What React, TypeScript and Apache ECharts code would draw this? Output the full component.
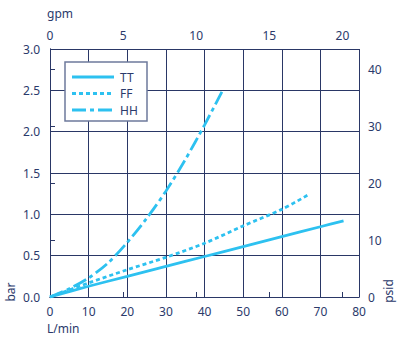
import React, { useEffect, useRef } from "react";
import * as echarts from "echarts";

// ---- data ----
const ttFlow = [0, 10, 20, 30, 40, 50, 60, 70, 76];
const ttBar = [0, 0.13, 0.25, 0.37, 0.49, 0.61, 0.73, 0.85, 0.92];

const ffFlow = [0, 10, 20, 30, 40, 50, 60, 67];
const ffBar = [0, 0.17, 0.33, 0.48, 0.65, 0.86, 1.06, 1.24];

const hhFlow = [0, 5, 10, 15, 20, 25, 30, 35, 40, 44.7];
const hhBar = [0, 0.1, 0.23, 0.41, 0.66, 0.95, 1.28, 1.66, 2.08, 2.5];

const seriesNames = ["TT", "FF", "HH"];
const gpmTicks = [0, 5, 10, 15, 20];
const psidTicks = [0, 10, 20, 30, 40];

const LPM_MAX = 80;
const BAR_MAX = 3;
const LPM_PER_GPM = 3.78541;
const PSI_PER_BAR = 14.5038;

const NAVY = "#2b3a6b";
const GRID = "#2a3766";
const CYAN = "#2dc1f0";
const FONT = "Noto Sans";

const pairs = (xs: number[], ys: number[]) => xs.map((x, i) => [x, ys[i]]);

export default function App() {
  const ref = useRef<HTMLDivElement>(null);

  useEffect(() => {
    if (!ref.current) return;
    const chart = echarts.init(ref.current, null, { renderer: "svg" });

    const dashDot = [14, 4, 4, 4];
    const dotted = [4, 3];
    const lineStyles = [
      { type: "solid" as any, dash: null as any },
      { type: dotted as any, dash: dotted },
      { type: dashDot as any, dash: dashDot },
    ];

    const legendRows = [77, 93.5, 110];

    chart.setOption({
      animation: false,
      grid: { left: 50, right: 38, top: 49, bottom: 46, containLabel: false },
      textStyle: { fontFamily: FONT },
      xAxis: [
        {
          type: "value",
          position: "bottom",
          min: 0,
          max: LPM_MAX,
          interval: 10,
          axisLine: { show: true, lineStyle: { color: GRID, width: 1 } },
          axisTick: { show: false },
          axisLabel: { color: NAVY, fontSize: 12, margin: 8, fontFamily: FONT },
          splitLine: { show: true, lineStyle: { color: GRID, width: 1 } },
        },
        {
          type: "value",
          position: "top",
          min: 0,
          max: LPM_MAX / LPM_PER_GPM,
          axisLine: { show: true, lineStyle: { color: GRID, width: 1 } },
          axisTick: { show: true, length: 5, inside: false, customValues: gpmTicks, lineStyle: { color: GRID } },
          axisLabel: { color: NAVY, fontSize: 12, margin: 8, fontFamily: FONT, customValues: gpmTicks },
          splitLine: { show: false },
        },
      ],
      yAxis: [
        {
          type: "value",
          position: "left",
          min: 0,
          max: BAR_MAX,
          interval: 0.5,
          axisLine: { show: true, lineStyle: { color: GRID, width: 1 } },
          axisTick: { show: false },
          axisLabel: {
            color: NAVY,
            fontSize: 12,
            margin: 10,
            fontFamily: FONT,
            formatter: (v: number) => v.toFixed(1),
          },
          splitLine: { show: true, lineStyle: { color: GRID, width: 1 } },
        },
        {
          type: "value",
          position: "right",
          min: 0,
          max: BAR_MAX * PSI_PER_BAR,
          axisLine: { show: true, lineStyle: { color: GRID, width: 1 } },
          axisTick: { show: true, length: 5, inside: false, customValues: psidTicks, lineStyle: { color: GRID } },
          axisLabel: { color: NAVY, fontSize: 12, margin: 9, fontFamily: FONT, customValues: psidTicks },
          splitLine: { show: false },
        },
      ],
      series: [
        { data: pairs(ttFlow, ttBar) },
        { data: pairs(ffFlow, ffBar) },
        { data: pairs(hhFlow, hhBar) },
      ].map((s, i) => ({
        name: seriesNames[i],
        type: "line",
        xAxisIndex: 0,
        yAxisIndex: 0,
        symbol: "none",
        smooth: 0.3,
        z: 5,
        lineStyle: { color: CYAN, width: 2.8, type: lineStyles[i].type, cap: "butt" },
        data: s.data,
      })),
      graphic: [
        {
          type: "text",
          left: 47,
          top: 7,
          style: { text: "gpm", fill: NAVY, font: `12px "${FONT}"` },
        },
        {
          type: "text",
          left: 47,
          top: 322,
          style: { text: "L/min", fill: NAVY, font: `12px "${FONT}"` },
        },
        {
          type: "text",
          x: 10,
          y: 292,
          rotation: Math.PI / 2,
          style: { text: "bar", fill: NAVY, font: `12px "${FONT}"`, textAlign: "center", textVerticalAlign: "middle" },
        },
        {
          type: "text",
          x: 388,
          y: 291,
          rotation: Math.PI / 2,
          style: { text: "psid", fill: NAVY, font: `12px "${FONT}"`, textAlign: "center", textVerticalAlign: "middle" },
        },
        {
          type: "group",
          z: 100,
          children: [
            {
              type: "rect",
              shape: { x: 65, y: 62, width: 82, height: 59 },
              style: { fill: "#ffffff", stroke: "#6e7a9c", lineWidth: 1.5 },
              z: 100,
            },
            ...seriesNames.flatMap((name, i) => [
              {
                type: "line",
                z: 101,
                shape: { x1: 72, y1: legendRows[i], x2: 114, y2: legendRows[i] },
                style: {
                  stroke: CYAN,
                  lineWidth: 2.8,
                  lineDash: lineStyles[i].dash,
                },
              },
              {
                type: "text",
                z: 101,
                x: 120,
                y: legendRows[i],
                style: {
                  text: name,
                  fill: NAVY,
                  font: `12px "${FONT}"`,
                  textVerticalAlign: "middle",
                },
              },
            ]),
          ],
        },
      ],
    });

    return () => chart.dispose();
  }, []);

  return (
    <div
      ref={ref}
      style={{ position: "fixed", left: 0, top: 0, width: 397, height: 343, background: "#fff" }}
    />
  );
}
